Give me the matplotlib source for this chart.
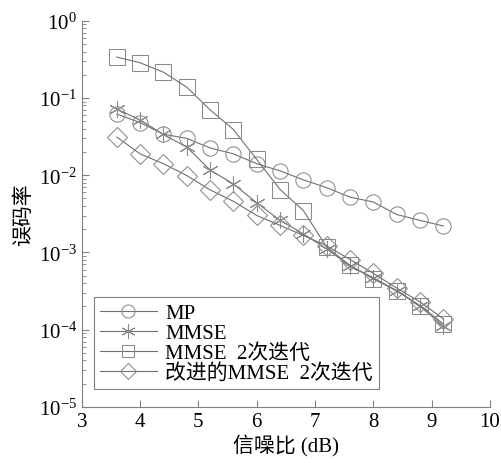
import matplotlib
matplotlib.use('Agg')
import matplotlib.pyplot as plt

plt.rcParams['font.family'] = ['Liberation Serif', 'Noto Sans CJK SC']
plt.rcParams['mathtext.fontset'] = 'custom'
plt.rcParams['mathtext.rm'] = 'Liberation Serif'

# SNR points (dB)
snr = [3.6, 4.0, 4.4, 4.8, 5.2, 5.6, 6.0, 6.4, 6.8, 7.2, 7.6, 8.0, 8.4, 8.8, 9.2]

# bit error rates
ber_mp = [0.062, 0.048, 0.034, 0.030, 0.0226, 0.0189, 0.0141, 0.0114, 0.0087,
          0.0069, 0.0052, 0.0045, 0.0031, 0.0026, 0.0022]
ber_mmse = [0.072, 0.052, 0.0337, 0.0231, 0.0117, 0.0077, 0.0044, 0.0026,
            0.00174, 0.00111, 0.00067, 0.00047, 0.00032, 0.00020, 0.000112]
ber_mmse_2 = [0.339, 0.286, 0.216, 0.138, 0.0703, 0.0391, 0.0160, 0.00653,
              0.00349, 0.00117, 0.00068, 0.000455, 0.00032, 0.000205, 0.000119]
ber_improved = [0.0312, 0.0189, 0.0141, 0.0099, 0.00646, 0.00459, 0.00301,
                0.00224, 0.00166, 0.00122, 0.00081, 0.000536, 0.000346,
                0.000229, 0.000138]

labels = ['MP', 'MMSE', 'MMSE  2次迭代', '改进的MMSE  2次迭代']
markers = ['o', (6, 2, 0), 's', 'D']
sizes = [11, 12, 11, 10]

line_col = '#707070'
mark_col = '#8a8a8a'

fig = plt.figure(figsize=(5.02, 4.64), dpi=100)
ax = fig.add_axes([0.163, 0.121, 0.813, 0.832])

series = [ber_mp, ber_mmse, ber_mmse_2, ber_improved]
for ys, lab, m, ms in zip(series, labels, markers, sizes):
    ax.plot(snr, ys, color=line_col, lw=0.8, marker=m, markersize=ms,
            markerfacecolor='none', markeredgecolor=mark_col,
            markeredgewidth=0.75, label=lab)

ax.set_yscale('log')
ax.set_xlim(3, 10)
ax.set_ylim(1e-5, 1)
ax.set_xticks(range(3, 11))

for s in ['top', 'right']:
    ax.spines[s].set_visible(False)
for s in ['left', 'bottom']:
    ax.spines[s].set_color('#808080')
    ax.spines[s].set_linewidth(0.8)

ax.tick_params(which='both', direction='in', colors='#808080',
               labelcolor='black', labelsize=15)
ax.tick_params(which='major', length=5)
ax.tick_params(which='minor', length=3)
ax.tick_params(axis='x', which='minor', bottom=False)

ax.set_xlabel('信噪比 (dB)', fontsize=15, labelpad=3)
ax.set_ylabel('误码率', fontsize=15, labelpad=3)

leg = ax.legend(loc='lower left', bbox_to_anchor=(0.03, 0.045), fontsize=15,
                handlelength=2.7, labelspacing=0.02, borderpad=0.3,
                handletextpad=0.4, borderaxespad=0, fancybox=False,
                framealpha=1, markerscale=0.85)
leg.get_frame().set_edgecolor('#808080')
leg.get_frame().set_linewidth(0.8)

fig.savefig('out.png', dpi=100)
